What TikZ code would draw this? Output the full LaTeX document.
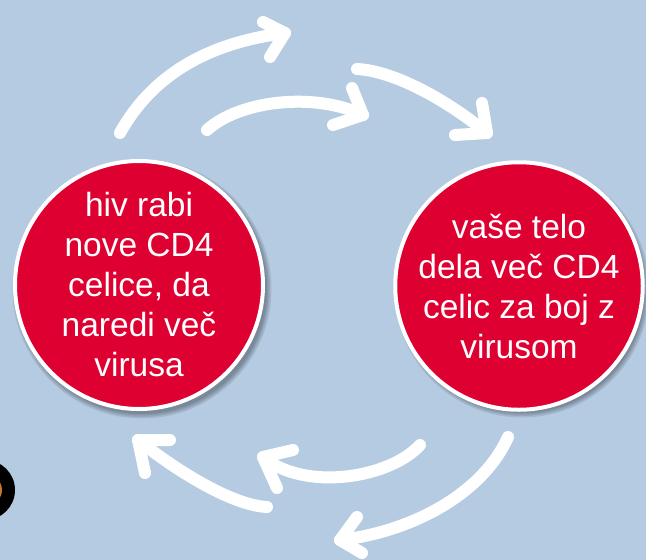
\documentclass[tikz,border=0pt]{standalone}
\usepackage{fontspec}
\setmainfont{Liberation Sans}
\definecolor{bg}{RGB}{181,203,226}
\definecolor{cred}{RGB}{221,0,49}
\definecolor{orng}{RGB}{200,120,40}
\begin{document}
\begin{tikzpicture}[x=1pt,y=-1pt,
  bubble/.style={circle, fill=cred, draw=white, line width=4pt, inner sep=0pt, align=center, text=white, font=\fontsize{33.5}{40}\selectfont},
  flow/.style={draw=white, line width=12pt, line cap=round, line join=round},
  shade/.style={fill=black, opacity=0.09}
]
\fill[bg] (0,0) rectangle (646,560);
\useasboundingbox (0,0) rectangle (646,560);
% partial icon at the lower left edge
\fill[black] (-15,490) circle[radius=30pt];
\fill[orng] (-4,490) ellipse[x radius=6pt, y radius=10pt];
% soft shadows of the circles
\foreach \cx/\cy/\r in {139/285/126, 519/286/124}{
  \foreach \d in {-1,0.5,2,3.5}
    \fill[shade] (\cx+3,\cy+4) circle[radius=\r pt+\d pt];
}
% circles
\node[bubble, minimum size=248pt] (L) at (139,285) {hiv rabi\\nove CD4\\celice, da\\naredi več\\virusa};
\node[bubble, minimum size=244pt] (R) at (519,286) {vaše telo\\dela več CD4\\celic za boj z\\virusom};
% arrow end points
\coordinate (a1s) at (120,133); \coordinate (a1t) at (285,33);
\coordinate (a1u) at (263,22);  \coordinate (a1d) at (270,57);
\coordinate (a2s) at (207,130); \coordinate (a2t) at (363,115);
\coordinate (a2u) at (352,88);  \coordinate (a2d) at (333,125);
\coordinate (a3s) at (357,69);  \coordinate (a3t) at (487,133);
\coordinate (a3u) at (482,103); \coordinate (a3d) at (455,135);
\coordinate (a4s) at (267,507); \coordinate (a4t) at (138,440);
\coordinate (a4u) at (170,440); \coordinate (a4d) at (145,473);
\coordinate (a5s) at (420,445); \coordinate (a5t) at (263,457);
\coordinate (a5u) at (293,450); \coordinate (a5d) at (277,488);
\coordinate (a6s) at (508,437); \coordinate (a6t) at (340,540);
\coordinate (a6u) at (357,517); \coordinate (a6d) at (362,553);
% arrows
\draw[flow] (a1s) .. controls (155,70) and (215,42) .. (a1t);
\draw[flow] (a1u) -- (a1t) -- (a1d);
\draw[flow] (a2s) .. controls (240,100) and (315,92) .. (a2t);
\draw[flow] (a2u) -- (a2t) -- (a2d);
\draw[flow] (a3s) .. controls (395,71) and (448,101) .. (a3t);
\draw[flow] (a3u) -- (a3t) -- (a3d);
\draw[flow] (a4s) .. controls (230,505) and (173,468) .. (a4t);
\draw[flow] (a4u) -- (a4t) -- (a4d);
\draw[flow] (a5s) .. controls (390,478) and (305,492) .. (a5t);
\draw[flow] (a5u) -- (a5t) -- (a5d);
\draw[flow] (a6s) .. controls (482,495) and (410,532) .. (a6t);
\draw[flow] (a6u) -- (a6t) -- (a6d);
\end{tikzpicture}
\end{document}
